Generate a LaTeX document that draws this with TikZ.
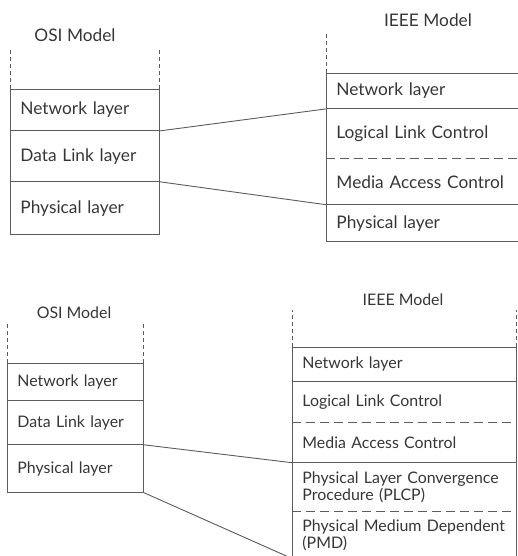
\documentclass[tikz,border=0pt]{standalone}
\usepackage{fontspec}
\setmainfont{Lato}
\usepackage{tikz}
\usetikzlibrary{positioning}
\definecolor{ink}{HTML}{363636}
\definecolor{rule}{HTML}{5C5C5C}
\tikzset{
  layer/.style={rectangle, inner xsep=10pt, inner ysep=0pt, text width=#1, align=left, anchor=north west, text=ink},
  title/.style={text=ink},
  tick/.style={dash pattern=on 4pt off 3pt},
  sep/.style={dash pattern=on 9pt off 5pt},
}

\begin{document}
\begin{tikzpicture}[x=1pt, y=-1pt, line width=0.9pt, rule]
\useasboundingbox (0,0) rectangle (518,556);
\clip (0,0) rectangle (518,556);
\newcommand{\topfont}{\fontsize{17.3}{19}\selectfont}
\newcommand{\lowfont}{\fontsize{15.9}{17}\selectfont}
\begin{scope}[font=\topfont]
  \node[title] (osititle) at (75,35) {OSI Model};
  \node[layer=129pt, minimum height=41pt] (osinet) at (10,89) {Network layer};
  \node[layer=129pt, minimum height=50pt] (osidll) at (osinet.south west) {Data Link layer};
  \node[layer=129pt, minimum height=52pt] (osiphy) at (osidll.south west) {Physical layer};
  \draw (osinet.north west) rectangle (osiphy.south east);
  \draw (osinet.south west) -- (osinet.south east);
  \draw (osidll.south west) -- (osidll.south east);
  \draw[tick] (osinet.north west) -- +(0,-39);
  \draw[tick] (osinet.north east) -- +(0,-39);
  \node[title] (ieeetitle) at (428,20) {IEEE Model};
  \node[layer=190pt, minimum height=35pt] (ieeenet) at (326,73) {Network layer};
  \node[layer=190pt, minimum height=49pt] (ieeellc) at (ieeenet.south west) {Logical Link Control};
  \node[layer=190pt, minimum height=45pt] (ieeemac) at (ieeellc.south west) {Media Access Control};
  \node[layer=190pt, minimum height=36pt] (ieeephy) at (ieeemac.south west) {Physical layer};
  \draw (ieeenet.north west) rectangle (ieeephy.south east);
  \draw (ieeenet.south west) -- (ieeenet.south east);
  \draw[sep] (ieeellc.south west) -- (ieeellc.south east);
  \draw (ieeemac.south west) -- (ieeemac.south east);
  \draw[tick] (ieeenet.north west) -- +(0,-40);
  \draw (osinet.south east) -- (ieeenet.south west);
  \draw (osidll.south east) -- (ieeemac.south west);
\end{scope}
\begin{scope}[font=\lowfont]
  \node[title] (osititle2) at (74,313) {OSI Model};
  \node[layer=116pt, minimum height=37pt] (osinet2) at (7,363) {Network layer};
  \node[layer=116pt, minimum height=43pt] (osidll2) at (osinet2.south west) {Data Link layer};
  \node[layer=116pt, minimum height=47pt] (osiphy2) at (osidll2.south west) {Physical layer};
  \draw (osinet2.north west) rectangle (osiphy2.south east);
  \draw (osinet2.south west) -- (osinet2.south east);
  \draw (osidll2.south west) -- (osidll2.south east);
  \draw[tick] (osinet2.north west) -- +(0,-41);
  \draw[tick] (osinet2.north east) -- +(0,-41);
  \node[title] (ieeetitle2) at (403,300) {IEEE Model};
  \begin{scope}[inner xsep=9pt]
    \node[layer=204pt, minimum height=34pt] (ieeenet2) at (292,347) {Network layer};
    \node[layer=204pt, minimum height=40pt] (ieeellc2) at (ieeenet2.south west) {Logical Link Control};
    \node[layer=204pt, minimum height=39pt] (ieeemac2) at (ieeellc2.south west) {Media Access Control};
    \node[layer=204pt, minimum height=48pt] (ieeeplcp) at (ieeemac2.south west) {Physical Layer Convergence\\Procedure (PLCP)};
    \node[layer=204pt, minimum height=46pt] (ieeepmd) at (ieeeplcp.south west) {Physical Medium Dependent\\(PMD)};
  \end{scope}
  \draw (ieeenet2.north west) rectangle (ieeepmd.south east);
  \draw (ieeenet2.south west) -- (ieeenet2.south east);
  \draw[sep] (ieeellc2.south west) -- (ieeellc2.south east);
  \draw (ieeemac2.south west) -- (ieeemac2.south east);
  \draw[sep] (ieeeplcp.south west) -- (ieeeplcp.south east);
  \draw[tick] (ieeenet2.north west) -- +(0,-37);
  \draw[tick] (ieeenet2.north east) -- +(0,-37);
  \draw (osidll2.south east) -- (ieeemac2.south west);
  \draw (osiphy2.south east) -- (ieeepmd.south west);
\end{scope}
\end{tikzpicture}
\end{document}
